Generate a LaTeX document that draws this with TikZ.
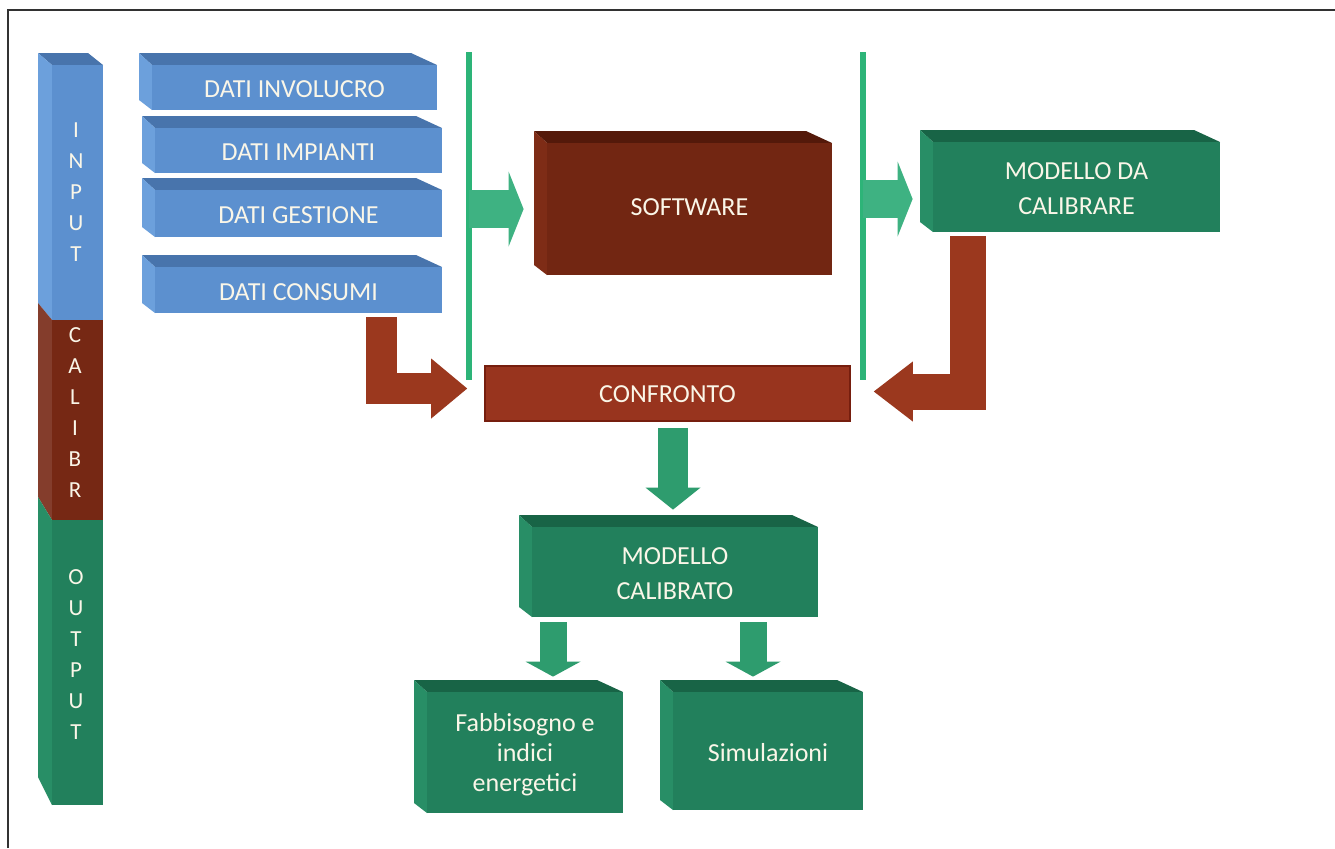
\documentclass[tikz,border=0pt]{standalone}
\usepackage{fontspec}
\setmainfont{Carlito}
\usetikzlibrary{arrows.meta,fit,calc}
\definecolor{bfront}{RGB}{92,144,207}
\definecolor{btop}{RGB}{72,116,172}
\definecolor{bside}{RGB}{108,160,220}
\definecolor{rfront}{RGB}{114,38,18}
\definecolor{rtop}{RGB}{84,25,10}
\definecolor{rside}{RGB}{126,44,22}
\definecolor{rbar}{RGB}{118,40,20}
\definecolor{cfill}{RGB}{152,52,30}
\definecolor{cline}{RGB}{118,30,14}
\definecolor{rarrowcol}{RGB}{155,56,30}
\definecolor{gfront}{RGB}{34,128,92}
\definecolor{gtop}{RGB}{24,100,70}
\definecolor{gside}{RGB}{40,142,102}
\definecolor{garrowcol}{RGB}{62,178,130}
\definecolor{gdowncol}{RGB}{46,156,110}
\definecolor{glinecol}{RGB}{45,180,120}
\definecolor{txtcol}{RGB}{250,246,232}
\definecolor{framecol}{RGB}{50,50,50}
\newcommand{\tdbox}[9]{%
  \fill[#7] (#2,#3) -- (#2-13,#3-12) -- (#4-26,#3-12) -- (#4,#3) -- cycle;
  \fill[#8] (#2,#3) -- (#2-13,#3-12) -- (#2-13,#5-10) -- (#2,#5) -- cycle;
  \node[inner sep=0pt, fill=#6, fit={(#2,#3) (#4,#5)}] (#1) {};
  \node[boxtext, #1lbl/.try] (#1-lbl) at ($(#1.center)+(0,2)$) {#9};
}
\begin{document}
\begin{tikzpicture}[x=0.5pt, y=-0.5pt,
  boxtext/.style={text=txtcol, align=center, inner sep=0pt, font=\fontsize{13}{17.5}\selectfont},
  fabblbl/.style={font=\fontsize{13}{15}\selectfont},
  softwarelbl/.style={yshift=2pt},
  bartext/.style={text=txtcol, align=center, inner sep=0pt, font=\fontsize{11.5}{15.5}\selectfont},
  gline/.style={draw=glinecol, line width=3pt},
  garrow/.style={draw=garrowcol, line width=19pt, -{Triangle[length=7.5pt, width=37.5pt, line width=0pt]}},
  gdown/.style={draw=gdowncol, line width=15pt, -{Triangle[length=11pt, width=27.5pt, line width=0pt]}},
  gsmall/.style={draw=gdowncol, line width=13.5pt, -{Triangle[length=7.5pt, width=27.5pt, line width=0pt]}},
  rarrowa/.style={draw=rarrowcol, line width=15.5pt, line join=miter, -{Triangle[length=18pt, width=30pt, line width=0pt]}},
  rarrowb/.style={draw=rarrowcol, line width=18pt, line join=miter, -{Triangle[length=19.5pt, width=30pt, line width=0pt]}}
]
\useasboundingbox (0,0) rectangle (1335,848);
\fill[white] (0,0) rectangle (1335,848);
\draw[framecol, line width=1pt] (8,848) -- (8,10) -- (1335,10);

% left bar
\fill[btop] (52,65) -- (38,53) -- (88,53) -- (103,65) -- cycle;
\fill[bside] (52,65) -- (38,53) -- (38,303) -- (52,320) -- cycle;
\fill[rbar!90!white] (52,320) -- (38,303) -- (38,497) -- (52,520) -- cycle;
\fill[gside] (52,520) -- (38,497) -- (38,777) -- (52,805) -- cycle;
\node[inner sep=0pt, fill=bfront, fit={(52,65) (103,320)}] (input) {};
\node[inner sep=0pt, fill=rbar, fit={(52,320) (103,520)}] (calibr) {};
\node[inner sep=0pt, fill=gfront, fit={(52,520) (103,805)}] (output) {};
\node[bartext] (inputlbl) at (76,192) {I\\N\\P\\U\\T};
\node[bartext] (calibrlbl) at (75,413) {C\\A\\L\\I\\B\\R};
\node[bartext] (outputlbl) at (76,655) {O\\U\\T\\P\\U\\T};

% input data boxes
\tdbox{invol}{152}{65}{437}{110}{bfront}{btop}{bside}{DATI INVOLUCRO}
\tdbox{impianti}{155}{128}{442}{173}{bfront}{btop}{bside}{DATI IMPIANTI}
\tdbox{gestione}{155}{190}{442}{237}{bfront}{btop}{bside}{DATI GESTIONE}
\tdbox{consumi}{155}{267}{442}{313}{bfront}{btop}{bside}{DATI CONSUMI}

% main boxes
\tdbox{software}{547}{143}{832}{275}{rfront}{rtop}{rside}{SOFTWARE}
\tdbox{modelloda}{933}{142}{1220}{232}{gfront}{gtop}{gside}{MODELLO DA\\CALIBRARE}
\node[inner sep=0pt, fill=cfill, draw=cline, line width=0.8pt, fit={(485,366) (850,421)}] (confronto) {};
\node[boxtext] (confronto-lbl) at ($(confronto.center)+(0,1)$) {CONFRONTO};
\tdbox{mcal}{532}{527}{818}{617}{gfront}{gtop}{gside}{MODELLO\\CALIBRATO}
\tdbox{fabb}{427}{692}{623}{813}{gfront}{gtop}{gside}{Fabbisogno e\\indici\\energetici}
\tdbox{simul}{673}{692}{863}{810}{gfront}{gtop}{gside}{Simulazioni}

% vertical green lines
\coordinate (l1a) at (469,52);
\coordinate (l1b) at (469,380);
\coordinate (l2a) at (863,52);
\coordinate (l2b) at (863,380);
\draw[gline] (l1a) -- (l1b);
\draw[gline] (l2a) -- (l2b);

% green arrows
\draw[garrow] (l1a |- software.west) -- ($(software.west)+(-23,0)$);
\draw[garrow] ($(l2a |- modelloda.west)+(0,12)$) -- ($(modelloda.west)+(-20,12)$);

% red bent arrows
\draw[rarrowa] ($(consumi.south)+(83,4)$) |- ($(confronto.west)+(-17,-5)$);
\draw[rarrowb] ($(modelloda.south)+(-109,4)$) |- ($(confronto.east)+(23,-2)$);

% green down arrows
\draw[gdown] ($(confronto.south -| mcal.north)+(-2,6)$) -- ($(mcal.north)+(-2,-17)$);
\draw[gsmall] ($(mcal.south)+(-122,5)$) -- ($(mcal.south |- fabb.north)+(-122,-15)$);
\draw[gsmall] ($(mcal.south)+(78,5)$) -- ($(mcal.south |- simul.north)+(78,-15)$);
\end{tikzpicture}
\end{document}
